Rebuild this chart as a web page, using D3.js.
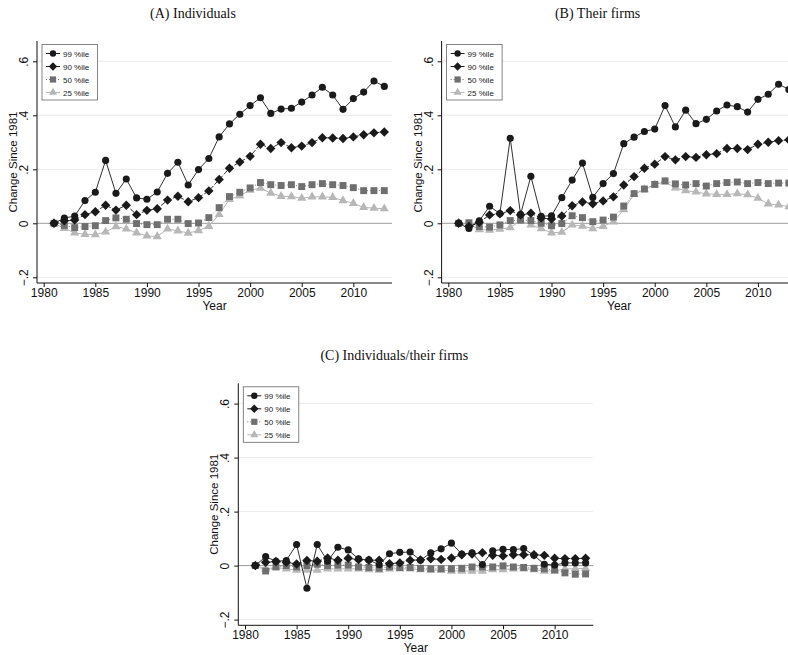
<!DOCTYPE html>
<html>
<head>
<meta charset="utf-8">
<script src="https://cdn.jsdelivr.net/npm/d3@7"></script>
<style>
body { margin: 0; background: #fff; }
svg { display: block; }
</style>
</head>
<body>
<svg width="788" height="655"></svg>
<script>
var years = [1981, 1982, 1983, 1984, 1985, 1986, 1987, 1988, 1989, 1990, 1991, 1992, 1993, 1994, 1995, 1996, 1997,
    1998, 1999, 2000, 2001, 2002, 2003, 2004, 2005, 2006, 2007, 2008, 2009, 2010, 2011, 2012, 2013];

var xTicks = [1980, 1985, 1990, 1995, 2000, 2005, 2010];
var yTicks = [-0.2, 0, 0.2, 0.4, 0.6];
var yTickLabels = ["\u2212.2", "0", ".2", ".4", ".6"];
var seriesNames = ["99 %ile", "90 %ile", "50 %ile", "25 %ile"];
var panelTitles = ["(A) Individuals", "(B) Their firms", "(C) Individuals/their firms"];

// (A) individuals
var indiv99 = [0, 0.019, 0.027, 0.084, 0.115, 0.233, 0.111, 0.164, 0.094, 0.089, 0.116, 0.185, 0.226, 0.142, 0.199, 0.240, 0.320,
    0.368, 0.404, 0.436, 0.465, 0.407, 0.423, 0.426, 0.449, 0.475, 0.504, 0.475, 0.422, 0.462, 0.486, 0.527, 0.507];
var indiv90 = [0, 0.009, 0.012, 0.032, 0.043, 0.067, 0.049, 0.067, 0.032, 0.048, 0.054, 0.086, 0.100, 0.080, 0.095, 0.120, 0.162,
    0.204, 0.227, 0.248, 0.293, 0.277, 0.299, 0.280, 0.286, 0.299, 0.317, 0.316, 0.314, 0.320, 0.328, 0.335, 0.338];
var indiv50 = [0, -0.008, -0.016, -0.012, -0.009, 0.010, 0.020, 0.015, -0.001, -0.005, -0.005, 0.015, 0.015, -0.001, 0.001, 0.021, 0.058,
    0.099, 0.115, 0.131, 0.151, 0.143, 0.140, 0.143, 0.136, 0.143, 0.147, 0.143, 0.140, 0.132, 0.121, 0.121, 0.121];
var indiv25 = [0, -0.019, -0.035, -0.041, -0.042, -0.032, -0.012, -0.021, -0.035, -0.047, -0.049, -0.021, -0.028, -0.036, -0.027, -0.011, 0.033,
    0.089, 0.102, 0.123, 0.130, 0.112, 0.100, 0.099, 0.093, 0.098, 0.098, 0.096, 0.084, 0.074, 0.059, 0.056, 0.054];

// (B) their firms
var firm99 = [0, -0.019, 0.009, 0.063, 0.036, 0.315, 0.033, 0.174, 0.026, 0.028, 0.095, 0.160, 0.223, 0.096, 0.147, 0.184, 0.295,
    0.319, 0.340, 0.349, 0.436, 0.357, 0.419, 0.369, 0.385, 0.416, 0.438, 0.432, 0.412, 0.459, 0.478, 0.515, 0.496];
var firm90 = [0, -0.012, 0.004, 0.031, 0.035, 0.047, 0.031, 0.037, 0.019, 0.016, 0.027, 0.065, 0.079, 0.072, 0.083, 0.098, 0.142,
    0.173, 0.204, 0.219, 0.247, 0.235, 0.247, 0.244, 0.254, 0.258, 0.277, 0.277, 0.273, 0.293, 0.300, 0.306, 0.309];
var firm50 = [0, 0.002, -0.012, -0.014, -0.006, 0.010, 0.012, 0.010, 0, -0.009, -0.001, 0.028, 0.021, 0.006, 0.012, 0.023, 0.064,
    0.110, 0.127, 0.144, 0.157, 0.146, 0.142, 0.147, 0.138, 0.147, 0.151, 0.153, 0.147, 0.151, 0.147, 0.149, 0.149];
var firm25 = [0, -0.003, -0.023, -0.025, -0.022, -0.016, 0.010, -0.006, -0.020, -0.035, -0.033, -0.006, -0.010, -0.020, -0.011, 0.005, 0.051,
    0.107, 0.125, 0.143, 0.153, 0.131, 0.121, 0.116, 0.109, 0.107, 0.107, 0.110, 0.106, 0.093, 0.072, 0.068, 0.062];

// (C) individuals / their firms
var ratio99 = [0, 0.033, 0.016, 0.019, 0.078, -0.084, 0.078, 0.016, 0.068, 0.058, 0.025, 0.021, 0.003, 0.044, 0.049, 0.050, 0.020,
    0.047, 0.062, 0.083, 0.043, 0.047, 0.004, 0.055, 0.060, 0.059, 0.063, 0.038, 0.005, 0.002, 0.010, 0.010, 0.010];
var ratio90 = [0, 0.012, 0.015, 0.012, 0.006, 0.019, 0.016, 0.028, 0.020, 0.027, 0.022, 0.020, 0.020, 0.007, 0.010, 0.020, 0.021,
    0.025, 0.023, 0.028, 0.040, 0.043, 0.048, 0.038, 0.036, 0.040, 0.040, 0.040, 0.038, 0.027, 0.026, 0.026, 0.027];
var ratio50 = [0, -0.020, -0.005, 0, -0.005, 0, 0.005, 0, 0.002, 0.002, -0.005, -0.007, -0.010, -0.005, -0.007, -0.007, -0.010,
    -0.012, -0.012, -0.012, -0.010, -0.005, -0.005, -0.005, -0.001, -0.005, -0.007, -0.010, -0.012, -0.016, -0.027, -0.032, -0.031];
var ratio25 = [0, -0.012, -0.007, -0.012, -0.017, -0.017, -0.017, -0.012, -0.012, -0.012, -0.012, -0.015, -0.017, -0.012, -0.012, -0.012, -0.015,
    -0.017, -0.017, -0.020, -0.020, -0.020, -0.020, -0.015, -0.015, -0.012, -0.012, -0.015, -0.020, -0.020, -0.012, -0.012, -0.010];

var svg = d3.select("svg");

// squares turned 45 degrees, like the Stata diamond
var symbolDiamondSq = {
    draw: function(context, size){
        var r = Math.sqrt(size / 2);
        context.moveTo(0, -r);
        context.lineTo(r, 0);
        context.lineTo(0, r);
        context.lineTo(-r, 0);
        context.closePath();
    }
};

var styles = [
    { symbol: d3.symbolCircle, size: 40, fill: "#1a1a1a", line: "#1a1a1a", dash: null, width: 0.9 },
    { symbol: symbolDiamondSq, size: 44, fill: "#1a1a1a", line: "#1a1a1a", dash: "5,2", width: 0.9 },
    { symbol: d3.symbolSquare, size: 48, fill: "#6f6f6f", line: "#6f6f6f", dash: "1,2", width: 0.9 },
    { symbol: d3.symbolTriangle, size: 36, fill: "#b7b7b7", line: "#b7b7b7", dash: null, width: 1 }
];

var draw_panel = function(ox, oy, title, series){
    var g = svg.append("g").attr("transform", "translate(" + ox + "," + oy + ")");
    var left = 37, right = 392, top = 41, bottom = 283;

    var x = d3.scaleLinear().domain([1980, 2013]).range([43.7, 384.3]);
    var y = d3.scaleLinear().domain([0, 0.6]).range([223.3, 61.3]);

    g.append("text")
    .text(title)
    .attr("x", 193)
    .attr("y", 18)
    .attr("style", "text-anchor: middle; font-family: 'Liberation Serif', serif; font-size: 14px;")
    .attr("fill", "#111");

    // grid
    g.selectAll("line.grid").data(yTicks.filter(function(d){ return d !== 0; })).enter()
    .append("line")
    .attr("x1", left).attr("x2", right)
    .attr("y1", function(d){ return y(d); })
    .attr("y2", function(d){ return y(d); })
    .attr("stroke", "#ececec")
    .attr("stroke-width", 1);

    g.append("line")
    .attr("x1", left).attr("x2", right)
    .attr("y1", y(0)).attr("y2", y(0))
    .attr("stroke", "#9a9a9a")
    .attr("stroke-width", 1);

    // axes
    var xAxis = d3.axisBottom(x).tickValues(xTicks).tickFormat(d3.format("d")).tickSize(4).tickSizeOuter(0);
    var xg = g.append("g").attr("transform", "translate(0," + bottom + ")").call(xAxis);
    xg.select(".domain").attr("d", "M" + left + ",0H" + right).attr("stroke", "#111");
    xg.selectAll("text").attr("style", "font-family: 'Liberation Sans', Arial, sans-serif; font-size: 12px;").attr("fill", "#111").attr("dy", "0.6em");
    xg.selectAll(".tick line").attr("stroke", "#111");

    var yAxis = d3.axisLeft(y).tickValues(yTicks).tickFormat(function(d, i){ return yTickLabels[i]; }).tickSize(4).tickSizeOuter(0);
    var yg = g.append("g").attr("transform", "translate(" + left + ",0)").call(yAxis);
    yg.select(".domain").attr("d", "M0," + top + "V" + bottom).attr("stroke", "#111");
    yg.selectAll(".tick line").attr("stroke", "#111");
    yg.selectAll("text")
    .attr("x", null).attr("dy", null)
    .attr("transform", "translate(-9,0) rotate(-90)")
    .attr("style", "text-anchor: middle; font-family: 'Liberation Sans', Arial, sans-serif; font-size: 12px;")
    .attr("fill", "#111");

    g.append("text")
    .text("Year")
    .attr("x", (left + right) / 2)
    .attr("y", 310)
    .attr("style", "text-anchor: middle; font-family: 'Liberation Sans', Arial, sans-serif; font-size: 12px;")
    .attr("fill", "#111");

    g.append("text")
    .text("Change Since 1981")
    .attr("transform", "translate(17," + (top + bottom) / 2 + ") rotate(-90)")
    .attr("style", "text-anchor: middle; font-family: 'Liberation Sans', Arial, sans-serif; font-size: 11.5px;")
    .attr("fill", "#111");

    // series, drawn from the back (25) to the front (99)
    for (var s = series.length - 1; s >= 0; s--){
        var st = styles[s];
        var pts = years.map(function(yr, i){ return [yr, series[s][i]]; });
        var line = d3.line().x(function(d){ return x(d[0]); }).y(function(d){ return y(d[1]); });
        g.append("path")
        .attr("d", line(pts))
        .attr("fill", "none")
        .attr("stroke", st.line)
        .attr("stroke-width", st.width)
        .attr("stroke-dasharray", st.dash);
        g.selectAll("path.m" + s).data(pts).enter()
        .append("path")
        .attr("class", "m" + s)
        .attr("d", d3.symbol().type(st.symbol).size(st.size))
        .attr("transform", function(d){ return "translate(" + x(d[0]) + "," + y(d[1]) + ")"; })
        .attr("fill", st.fill);
    }

    // legend
    var lg = g.append("g").attr("transform", "translate(42,44.5)");
    lg.append("rect")
    .attr("width", 55.5).attr("height", 55.5)
    .attr("fill", "#fff")
    .attr("stroke", "#666")
    .attr("stroke-width", 0.8);
    for (var k = 0; k < seriesNames.length; k++){
        var ls = styles[k];
        var ly = 9 + k * 13;
        lg.append("line")
        .attr("x1", 4).attr("x2", 18).attr("y1", ly).attr("y2", ly)
        .attr("stroke", ls.line).attr("stroke-width", 1)
        .attr("stroke-dasharray", k === 2 ? "1,2" : null);
        lg.append("path")
        .attr("d", d3.symbol().type(ls.symbol).size(ls.size * 0.8))
        .attr("transform", "translate(11," + ly + ")")
        .attr("fill", ls.fill);
        lg.append("text")
        .text(seriesNames[k])
        .attr("x", 21).attr("y", ly + 3)
        .attr("style", "font-family: 'Liberation Sans', Arial, sans-serif; font-size: 8px;")
        .attr("fill", "#222");
    }
};

draw_panel(0, 0, panelTitles[0], [indiv99, indiv90, indiv50, indiv25]);
draw_panel(404.6, 0, panelTitles[1], [firm99, firm90, firm50, firm25]);
draw_panel(201.3, 342.3, panelTitles[2], [ratio99, ratio90, ratio50, ratio25]);
</script>
</body>
</html>
